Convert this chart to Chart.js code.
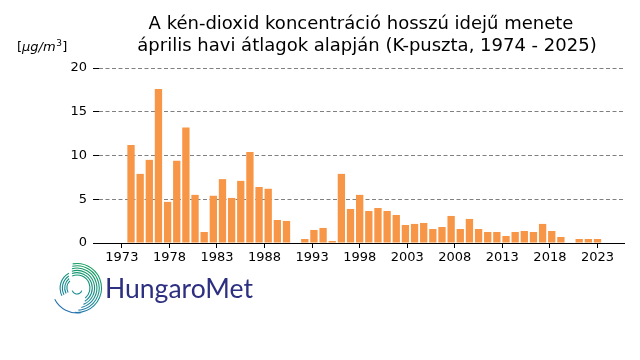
<!DOCTYPE html>
<html>
<head>
<meta charset="utf-8">
<script src="https://cdn.jsdelivr.net/npm/chart.js@4/dist/chart.umd.min.js"></script>
<style>
  html, body { margin: 0; padding: 0; background: #fff; }
  #wrap { width: 640px; height: 360px; }
</style>
</head>
<body>
<div id="wrap"><canvas id="so2Chart" width="640" height="360"></canvas></div>
<script>
// április havi átlagok, K-puszta
var years = [];
for (var y = 1974; y <= 2025; y++) years.push(y);

var so2Values = [11.2, 7.9, 9.5, 17.6, 4.7, 9.4, 13.2, 5.5, 1.26, 5.4,
                 7.3, 5.15, 7.1, 10.4, 6.4, 6.2, 2.63, 2.52, null, 0.46,
                 1.49, 1.72, 0.23, 7.9, 3.89, 5.5, 3.66, 4.0, 3.66, 3.2,
                 2.06, 2.18, 2.29, 1.6, 1.83, 3.09, 1.6, 2.75, 1.6, 1.26,
                 1.26, 0.8, 1.26, 1.37, 1.26, 2.18, 1.37, 0.69, null, 0.46,
                 0.46, 0.46];

var xTickLabels = ['1973', '1978', '1983', '1988', '1993', '1998', '2003', '2008', '2013', '2018', '2023'];
var yTicks = [0, 5, 10, 15, 20];

var titleLines = ['A kén-dioxid koncentráció hosszú idejű menete',
                  'április havi átlagok alapján (K-puszta, 1974 - 2025)'];

var FONT = '"DejaVu Sans", sans-serif';

// cím, mértékegység, logó
var decorPlugin = {
    id: 'decor',
    afterDraw: function(chart) {
        var ctx = chart.ctx;
        ctx.save();
        ctx.fillStyle = '#000';
        ctx.font = '18px ' + FONT;
        ctx.textAlign = 'center';
        ctx.textBaseline = 'alphabetic';
        ctx.fillText(titleLines[0], 361, 29);
        ctx.fillText(titleLines[1], 367, 51);

        // [µg/m3]
        ctx.textAlign = 'left';
        var x = 17, base = 51;
        ctx.font = '13px ' + FONT;
        ctx.fillText('[', x, base); x += ctx.measureText('[').width;
        ctx.font = 'italic 13px ' + FONT;
        ctx.fillText('\u03bcg/m', x, base); x += ctx.measureText('\u03bcg/m').width;
        ctx.font = '9px ' + FONT;
        ctx.fillText('3', x + 0.5, base - 5); x += ctx.measureText('3').width + 1;
        ctx.font = '13px ' + FONT;
        ctx.fillText(']', x, base);

        // logó spirál
        var cx = 77, cy = 288;
        var g = ctx.createLinearGradient(cx + 10, cy - 25, cx - 15, cy + 25);
        g.addColorStop(0, '#16a05a');
        g.addColorStop(0.55, '#178b92');
        g.addColorStop(1, '#2a6db8');
        ctx.strokeStyle = g;
        ctx.lineWidth = 1.1;
        for (var k = 0; k < 6; k++) {
            var r = 13 + k * 2.3;
            ctx.beginPath();
            ctx.arc(cx, cy, r, -Math.PI * 0.62 + k * 0.04, Math.PI * (0.28 + k * 0.05));
            ctx.stroke();
        }
        for (var k2 = 0; k2 < 4; k2++) {
            var r2 = 10 + k2 * 2.3;
            ctx.beginPath();
            ctx.arc(cx, cy, r2, Math.PI * 0.85, Math.PI * (1.25 + k2 * 0.03));
            ctx.stroke();
        }
        ctx.beginPath();
        ctx.arc(cx, cy, 25, Math.PI * 0.45, Math.PI * 0.85);
        ctx.stroke();
        ctx.beginPath();
        ctx.arc(cx, cy + 1, 5, Math.PI * 0.1, Math.PI * 0.9);
        ctx.stroke();

        ctx.fillStyle = '#2d2f80';
        ctx.font = '27px Lato, sans-serif';
        var w = ctx.measureText('HungaroMet').width;
        ctx.translate(105, 298);
        ctx.scale(148 / w, 1);
        ctx.fillText('HungaroMet', 0, 0);
        ctx.restore();
    }
};

var ctx = document.getElementById('so2Chart').getContext('2d');
var chart = new Chart(ctx, {
    type: 'bar',
    data: {
        datasets: [{
            label: 'SO2',
            data: years.map(function(yr, i) { return { x: yr, y: so2Values[i] }; }),
            backgroundColor: '#f79646',
            borderWidth: 0,
            barPercentage: 0.8,
            categoryPercentage: 1.0
        }]
    },
    options: {
        responsive: false,
        animation: false,
        layout: { padding: { top: 68, right: 16, left: 0, bottom: 0 } },
        plugins: {
            legend: { display: false },
            tooltip: { enabled: false },
            decor: {}
        },
        scales: {
            x: {
                type: 'linear',
                offset: false,
                z: 1,
                min: 1970.5,
                max: 2027.9,
                afterBuildTicks: function(scale) {
                    var step = (years[years.length - 1] - years[0] + 1) / (xTickLabels.length - 1);
                    scale.ticks = xTickLabels.map(function(l, k) {
                        return { value: years[0] - 1 + k * step };
                    });
                },
                afterFit: function(scale) { scale.height = 117; },
                grid: {
                    offset: false,
                    drawOnChartArea: false,
                    drawTicks: true,
                    tickLength: 5,
                    tickColor: '#000',
                    tickWidth: 1
                },
                border: { display: true, color: '#000', width: 1 },
                ticks: {
                    autoSkip: false,
                    maxRotation: 0,
                    padding: 2,
                    color: '#000',
                    font: { family: FONT, size: 13 },
                    callback: function(v, i) { return xTickLabels[i]; }
                }
            },
            y: {
                min: 0,
                max: 20,
                afterBuildTicks: function(scale) {
                    scale.ticks = yTicks.map(function(v) { return { value: v }; });
                },
                afterFit: function(scale) { scale.width = 99; },
                grid: {
                    color: function(c) { return c.tick && c.tick.value === 0 ? 'rgba(0,0,0,0)' : '#808080'; },
                    lineWidth: 1,
                    tickColor: '#000',
                    tickLength: 6,
                    tickBorderDash: []
                },
                border: { display: false, dash: [4, 2.5] },
                ticks: {
                    padding: 6,
                    color: '#000',
                    font: { family: FONT, size: 13 }
                }
            }
        }
    },
    plugins: [decorPlugin]
});
</script>
</body>
</html>
